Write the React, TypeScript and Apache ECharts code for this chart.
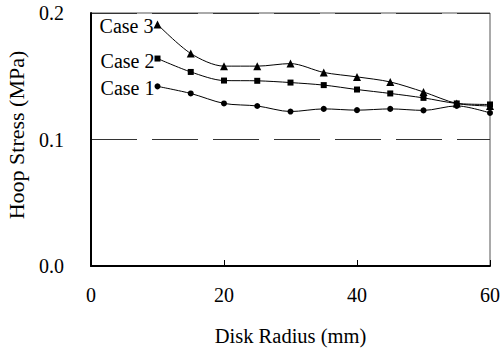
import React, { useEffect, useRef } from "react";
import * as echarts from "echarts";

const radius = [10, 15, 20, 25, 30, 35, 40, 45, 50, 55, 60];
const case1 = [0.142, 0.1364, 0.1285, 0.1265, 0.1221, 0.1242, 0.1232, 0.1242, 0.123, 0.1266, 0.121];
const case2 = [0.164, 0.1534, 0.1466, 0.1464, 0.145, 0.143, 0.1395, 0.1364, 0.1329, 0.1285, 0.1277];
const case3 = [0.191, 0.168, 0.158, 0.158, 0.16, 0.153, 0.1495, 0.1455, 0.1376, 0.1285, 0.1265];
const seriesNames = ["Case 1", "Case 2", "Case 3"];
const symbols = ["circle", "rect", "triangle"];
const symbolSizes = [6, 6, 8];

const FONT = "Times New Roman, Liberation Serif, serif";

export default function App() {
  const ref = useRef<HTMLDivElement>(null);
  useEffect(() => {
    if (!ref.current) return;
    const chart = echarts.init(ref.current, undefined, { renderer: "svg" });
    const all = [case1, case2, case3];
    const series = all.map((vals, si) => ({
      type: "line",
      name: seriesNames[si],
      smooth: 0.3,
      symbol: symbols[si],
      symbolSize: symbolSizes[si],
      itemStyle: { color: "#000" },
      lineStyle: { color: "#000", width: 1 },
      data: vals.map((v, i) =>
        i === 0
          ? {
              value: [radius[i], v],
              label: {
                show: true,
                position: "left",
                distance: 2,
                offset: [2, 2],
                formatter: seriesNames[si],
                fontFamily: FONT,
                fontSize: 20,
                color: "#000",
              },
            }
          : { value: [radius[i], v] }
      ),
    }));
    chart.setOption({
      animation: false,
      backgroundColor: "#fff",
      textStyle: { fontFamily: FONT },
      grid: {
        left: 91,
        right: 12,
        top: 13,
        bottom: 85,
        show: true,
        borderColor: "#555",
        borderWidth: 1,
        containLabel: false,
        outerBoundsMode: "none",
      },
      xAxis: {
        type: "value",
        min: 0,
        max: 60,
        interval: 20,
        name: "Disk Radius (mm)",
        nameLocation: "middle",
        nameGap: 59,
        nameTextStyle: { fontFamily: FONT, fontSize: 20.5, color: "#000" },
        axisLine: { show: true, lineStyle: { color: "#000", width: 2 } },
        axisTick: { show: true, inside: true, length: 6, lineStyle: { color: "#000" } },
        axisLabel: { fontFamily: FONT, fontSize: 20, color: "#000", margin: 19 },
        splitLine: { show: false },
      },
      yAxis: {
        type: "value",
        min: 0,
        max: 0.2,
        interval: 0.1,
        name: "Hoop Stress (MPa)",
        nameLocation: "middle",
        nameGap: 64,
        nameRotate: 90,
        nameTextStyle: {
          fontFamily: FONT,
          fontSize: 22,
          color: "#000",
          padding: [0, 0, 0, 9],
        },
        axisLine: { show: true, lineStyle: { color: "#000", width: 2 } },
        axisTick: { show: false },
        axisLabel: {
          fontFamily: FONT,
          fontSize: 20,
          color: "#000",
          margin: 27,
          formatter: (v: number) => v.toFixed(1),
        },
        splitLine: {
          show: true,
          lineStyle: { color: "#333", width: 1, type: [46, 15] },
        },
      },
      series,
    });
    return () => chart.dispose();
  }, []);
  return (
    <div
      ref={ref}
      style={{ position: "fixed", left: 0, top: 0, width: 502, height: 351 }}
    />
  );
}
